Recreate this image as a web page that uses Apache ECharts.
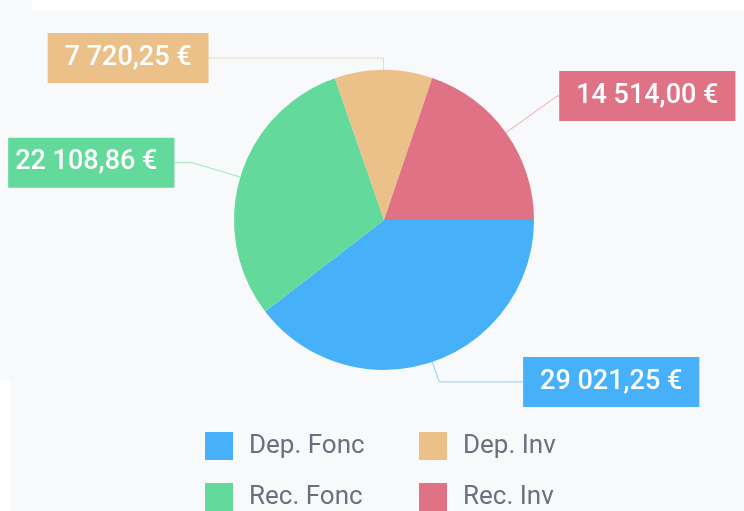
<!DOCTYPE html>
<html>
<head>
<meta charset="utf-8">
<script src="https://cdn.jsdelivr.net/npm/echarts@6/dist/echarts.min.js"></script>
<style>
	html, body { margin: 0; padding: 0; background: #f7f9fb; }
	#chart { width: 744px; height: 511px; }
</style>
</head>
<body>
<div id="chart"></div>
<script>
// valeurs
var legendNames = [ 'Dep. Fonc', 'Dep. Inv', 'Rec. Fonc', 'Rec. Inv' ];
var sliceNames = [ 'Dep. Fonc', 'Rec. Fonc', 'Dep. Inv', 'Rec. Inv' ];
var sliceValues = [ 29021.25, 22108.86, 7720.25, 14514.00 ];
var sliceColors = [ '#46b1f9', '#63d99b', '#ecc089', '#e07286' ];
// longueur des traits de label, par part
var lineLen = [ 21, 50, 12, 63 ];
var lineLen2 = [ 84, 18, 175, 2 ];
// la boite verte est coupee a gauche dans l'original
var labelPad = [ [ 11, 17 ], [ 11, 17, 11, 7 ], [ 11, 17 ], [ 11, 17 ] ];

function euro(v) {
	var parts = v.toFixed(2).split('.');
	var ent = parts[0].replace(/\B(?=(\d{3})+(?!\d))/g, ' ');
	return ent + ',' + parts[1] + ' €';
}

var chart = echarts.init(document.getElementById('chart'));

var data = [];
for (var i = 0; i < sliceNames.length; i++) {
	data.push({
		name : sliceNames[i],
		value : sliceValues[i],
		itemStyle : { color : sliceColors[i] },
		label : { backgroundColor : sliceColors[i], padding : labelPad[i] },
		labelLine : { length : lineLen[i], length2 : lineLen2[i] }
	});
}

option = {
	backgroundColor : '#f7f9fb',
	animation : false,
	graphic : [
		{ type : 'rect', shape : { x : 32, y : 0, width : 712, height : 10 }, style : { fill : '#ffffff' } },
		{ type : 'rect', shape : { x : 0, y : 380, width : 10, height : 131 }, style : { fill : '#ffffff' } }
	],
	legend : {
		data : legendNames,
		left : 200,
		top : 427,
		width : 420,
		itemWidth : 28,
		itemHeight : 28,
		itemGap : 23,
		icon : 'rect',
		textStyle : {
			fontFamily : 'Roboto',
			fontSize : 26,
			color : '#6a707c',
			lineHeight : 28,
			width : 147,
			padding : [ 0, 0, 0, 11 ]
		}
	},
	series : [ {
		type : 'pie',
		center : [ 384, 220 ],
		radius : 150,
		startAngle : 0,
		clockwise : true,
		avoidLabelOverlap : false,
		label : {
			show : true,
			position : 'outside',
			distanceToLabelLine : 0,
			formatter : function(p) { return euro(p.value); },
			color : '#ffffff',
			fontFamily : 'Roboto',
			fontWeight : 500,
			fontSize : 27,
			lineHeight : 28
		},
		labelLine : {
			show : true,
			lineStyle : { width : 1, opacity : 0.6 }
		},
		emphasis : { disabled : true },
		data : data
	} ]
};
chart.setOption(option);
</script>
</body>
</html>
